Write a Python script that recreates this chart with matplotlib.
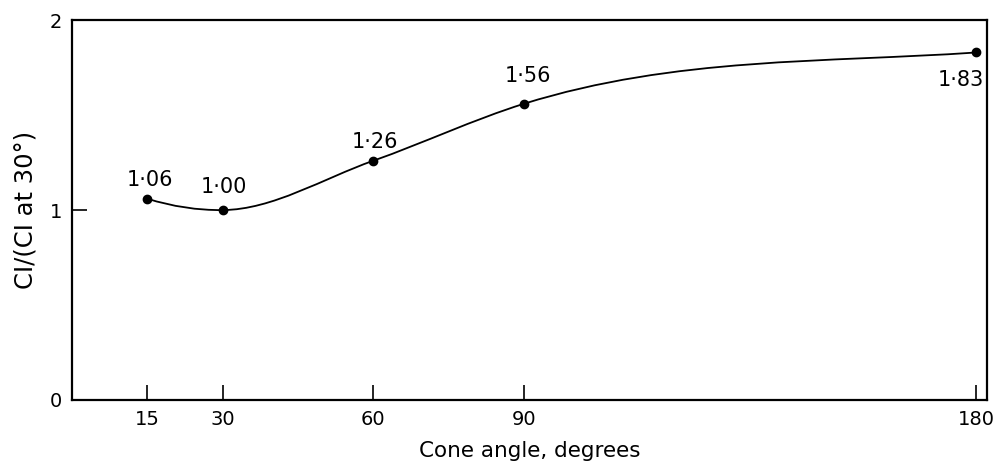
import numpy as np
import matplotlib
matplotlib.use("Agg")
import matplotlib.pyplot as plt
from matplotlib.path import Path
from matplotlib.patches import PathPatch

# Data
cone_angle = [15, 30, 60, 90, 180]
ci_ratio = [1.06, 1.00, 1.26, 1.56, 1.83]
point_labels = ["1·06", "1·00", "1·26", "1·56", "1·83"]
x_ticks = [15, 30, 60, 90, 180]
y_ticks = [0, 1, 2]

plt.rcParams['font.family'] = ['DejaVu Sans']

fig = plt.figure(figsize=(9.98, 4.70), dpi=100)
ax = fig.add_axes([0.0721, 0.149, 0.917, 0.808])

# Smooth curve through the points as a cubic Bezier path (Hermite tangents)
x = np.array(cone_angle, dtype=float)
y = np.array(ci_ratio, dtype=float)
h = np.diff(x)
s = np.diff(y) / h
d = np.zeros_like(x)
for i in range(1, len(x) - 1):
    d[i] = (h[i] * s[i - 1] + h[i - 1] * s[i]) / (h[i - 1] + h[i])
d[0] = 2 * s[0] - d[1]
d[-1] = 0.6 * s[-1]
verts = [(x[0], y[0])]
codes = [Path.MOVETO]
for i in range(len(x) - 1):
    verts += [(x[i] + h[i] / 3, y[i] + d[i] * h[i] / 3),
              (x[i + 1] - h[i] / 3, y[i + 1] - d[i + 1] * h[i] / 3),
              (x[i + 1], y[i + 1])]
    codes += [Path.CURVE4] * 3
ax.add_patch(PathPatch(Path(verts, codes), facecolor='none', edgecolor='black', lw=1.3))

ax.plot(cone_angle, ci_ratio, 'o', color='black', markersize=6)

offsets = [(2, 6.5), (1, 9.5), (1, 6), (3, 12.5), (-11, -12.5)]
for xi, yi, lab, (dx, dy) in zip(cone_angle, ci_ratio, point_labels, offsets):
    ax.annotate(lab, (xi, yi), xytext=(dx, dy), textcoords='offset points',
                ha='center', va='bottom' if dy > 0 else 'top', fontsize=15)

ax.set_xlim(0, 182.2)
ax.set_ylim(0, 2)
ax.set_xticks(x_ticks)
ax.set_yticks(y_ticks)
ax.tick_params(direction='in', length=11, width=1.2, labelsize=14, pad=7)
for sp in ax.spines.values():
    sp.set_linewidth(1.6)

ax.set_xlabel("Cone angle, degrees", fontsize=15.5, labelpad=9)
ax.set_ylabel("CI/(CI at 30°)", fontsize=17.5, labelpad=9)

fig.savefig("out.png", dpi=100)
